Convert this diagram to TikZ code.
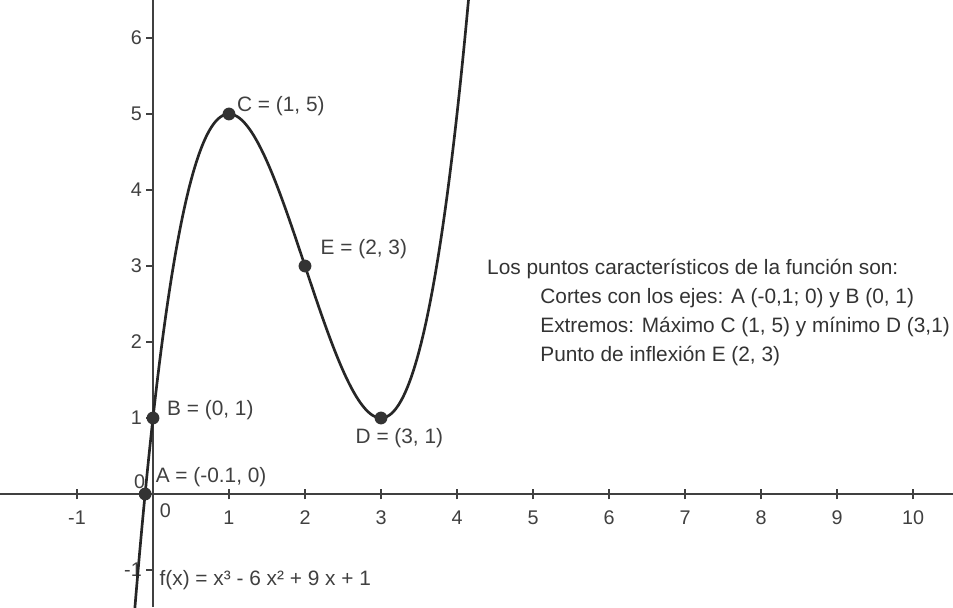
\documentclass[tikz,border=0pt]{standalone}
\usepackage{fontspec}
\setmainfont{Liberation Sans}
\begin{document}
\begin{tikzpicture}[x=1cm,y=1cm,
  axisline/.style={draw=black!75, line width=0.7pt},
  tickmark/.style={draw=black!75, line width=0.5pt},
  ticklbl/.style={font=\fontsize{7.4}{8.4}\selectfont, text=black!75, inner sep=1pt},
  curveline/.style={draw=black!85, line width=1pt},
  pt/.style={circle, fill=black!80, inner sep=0pt, minimum size=4.8pt},
  ptlbl/.style={font=\fontsize{7.8}{9}\selectfont, text=black!75, anchor=west, inner sep=0pt},
  infotxt/.style={font=\fontsize{7.8}{9}\selectfont, text=black!80, anchor=west, inner sep=0pt}
]
\useasboundingbox (-2.013,-1.487) rectangle (10.526,6.5);
% axes
\coordinate (xl) at (-2.013,0);
\coordinate (xr) at (10.526,0);
\coordinate (yb) at (0,-1.487);
\coordinate (yt) at (0,6.5);
\draw[axisline] (xl) -- (xr);
\draw[axisline] (yb) -- (yt);
% x ticks and labels
\foreach \i in {-1,1,2,...,10} {
  \coordinate (xt\i) at (\i,0);
  \draw[tickmark] ([yshift=-2pt]xt\i) -- ([yshift=2pt]xt\i);
  \node[ticklbl, anchor=north] (xlab\i) at ([yshift=-5pt]xt\i) {\i};
}
\node[ticklbl, anchor=north west] (xlab0) at (0.05,-0.09) {0};
% y ticks and labels
\foreach \j in {-1,1,2,...,6} {
  \coordinate (yt\j) at (0,\j);
  \draw[tickmark] ([xshift=-2.5pt]yt\j) -- ([xshift=0.5pt]yt\j);
  \node[ticklbl, anchor=east] (ylab\j) at ([xshift=-3pt]yt\j) {\j};
}
\node[ticklbl, anchor=south east] (ylab0) at (-0.06,0.03) {0};
% curve
\begin{scope}
\clip (-2.013,-1.487) rectangle (10.526,6.5);
\draw[curveline] plot[domain=-0.27:4.2, samples=250, smooth] (\x,{\x*\x*\x-6*\x*\x+9*\x+1});
\end{scope}
% points
\node[pt] (A) at (-0.103,0) {};
\node[pt] (B) at (0,1) {};
\node[pt] (C) at (1,5) {};
\node[pt] (D) at (3,1) {};
\node[pt] (E) at (2,3) {};
% point labels
\node[ptlbl] (Alab) at (0.03,0.22) {A = (-0.1, 0)};
\node[ptlbl] (Blab) at (0.18,1.1) {B = (0, 1)};
\node[ptlbl] (Clab) at (1.1,5.1) {C = (1, 5)};
\node[ptlbl] (Dlab) at (2.66,0.74) {D = (3, 1)};
\node[ptlbl] (Elab) at (2.2,3.22) {E = (2, 3)};
\node[ptlbl] (flab) at (0.08,-1.13) {f(x) = x³ - 6 x² + 9 x + 1};
% info text
\node[infotxt] (t1) at (4.39,2.96) {Los puntos característicos de la función son:};
\node[infotxt] (t2) at (5.09,2.58) {Cortes con los ejes: A (-0,1; 0) y B (0, 1)};
\node[infotxt] (t3) at (5.09,2.20) {Extremos: Máximo C (1, 5) y mínimo D (3,1)};
\node[infotxt] (t4) at (5.09,1.82) {Punto de inflexión E (2, 3)};
\end{tikzpicture}
\end{document}
